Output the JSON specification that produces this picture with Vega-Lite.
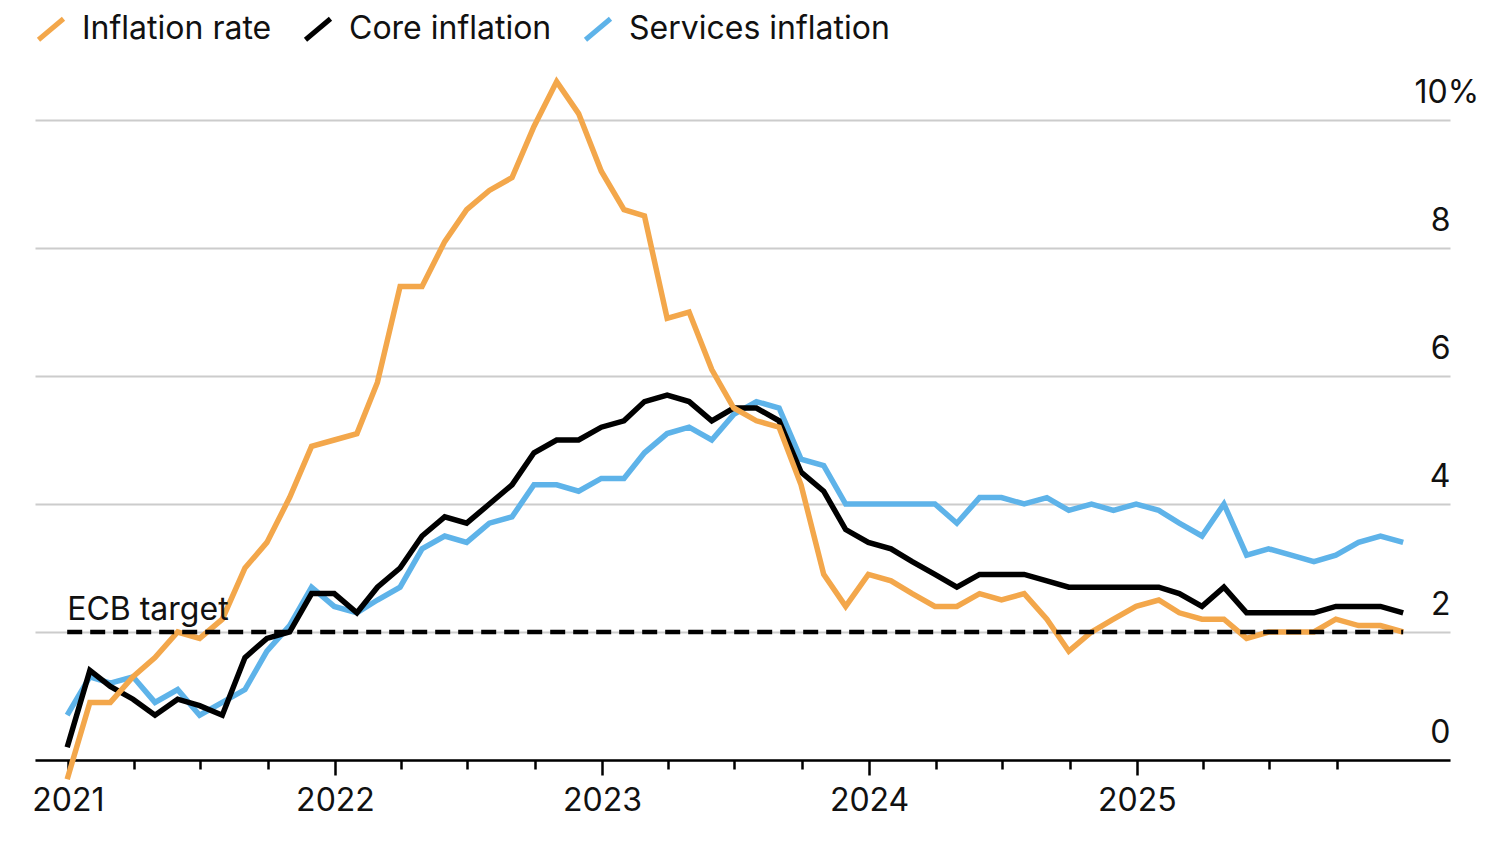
{
  "$schema": "https://vega.github.io/schema/vega-lite/v6.json",
  "width": 1415,
  "height": 704,
  "autosize": {"type": "none"},
  "padding": {"left": 35, "top": 56, "right": 50, "bottom": 90},
  "background": "#ffffff",
  "config": {"view": {"stroke": null}, "font": "Inter"},
  "datasets": {
    "main": [
      {"date": "2020-12-31", "Inflation rate": -0.3, "Core inflation": 0.2, "Services inflation": 0.7},
      {"date": "2021-01-31", "Inflation rate": 0.9, "Core inflation": 1.4, "Services inflation": 1.3},
      {"date": "2021-02-28", "Inflation rate": 0.9, "Core inflation": 1.15, "Services inflation": 1.2},
      {"date": "2021-03-31", "Inflation rate": 1.3, "Core inflation": 0.95, "Services inflation": 1.3},
      {"date": "2021-04-30", "Inflation rate": 1.6, "Core inflation": 0.7, "Services inflation": 0.9},
      {"date": "2021-05-31", "Inflation rate": 2.0, "Core inflation": 0.95, "Services inflation": 1.1},
      {"date": "2021-06-30", "Inflation rate": 1.9, "Core inflation": 0.85, "Services inflation": 0.7},
      {"date": "2021-07-31", "Inflation rate": 2.2, "Core inflation": 0.7, "Services inflation": 0.9},
      {"date": "2021-08-31", "Inflation rate": 3.0, "Core inflation": 1.6, "Services inflation": 1.1},
      {"date": "2021-09-30", "Inflation rate": 3.4, "Core inflation": 1.9, "Services inflation": 1.7},
      {"date": "2021-10-31", "Inflation rate": 4.1, "Core inflation": 2.0, "Services inflation": 2.1},
      {"date": "2021-11-30", "Inflation rate": 4.9, "Core inflation": 2.6, "Services inflation": 2.7},
      {"date": "2021-12-31", "Inflation rate": 5.0, "Core inflation": 2.6, "Services inflation": 2.4},
      {"date": "2022-01-31", "Inflation rate": 5.1, "Core inflation": 2.3, "Services inflation": 2.3},
      {"date": "2022-02-28", "Inflation rate": 5.9, "Core inflation": 2.7, "Services inflation": 2.5},
      {"date": "2022-03-31", "Inflation rate": 7.4, "Core inflation": 3.0, "Services inflation": 2.7},
      {"date": "2022-04-30", "Inflation rate": 7.4, "Core inflation": 3.5, "Services inflation": 3.3},
      {"date": "2022-05-31", "Inflation rate": 8.1, "Core inflation": 3.8, "Services inflation": 3.5},
      {"date": "2022-06-30", "Inflation rate": 8.6, "Core inflation": 3.7, "Services inflation": 3.4},
      {"date": "2022-07-31", "Inflation rate": 8.9, "Core inflation": 4.0, "Services inflation": 3.7},
      {"date": "2022-08-31", "Inflation rate": 9.1, "Core inflation": 4.3, "Services inflation": 3.8},
      {"date": "2022-09-30", "Inflation rate": 9.9, "Core inflation": 4.8, "Services inflation": 4.3},
      {"date": "2022-10-31", "Inflation rate": 10.6, "Core inflation": 5.0, "Services inflation": 4.3},
      {"date": "2022-11-30", "Inflation rate": 10.1, "Core inflation": 5.0, "Services inflation": 4.2},
      {"date": "2022-12-31", "Inflation rate": 9.2, "Core inflation": 5.2, "Services inflation": 4.4},
      {"date": "2023-01-31", "Inflation rate": 8.6, "Core inflation": 5.3, "Services inflation": 4.4},
      {"date": "2023-02-28", "Inflation rate": 8.5, "Core inflation": 5.6, "Services inflation": 4.8},
      {"date": "2023-03-31", "Inflation rate": 6.9, "Core inflation": 5.7, "Services inflation": 5.1},
      {"date": "2023-04-30", "Inflation rate": 7.0, "Core inflation": 5.6, "Services inflation": 5.2},
      {"date": "2023-05-31", "Inflation rate": 6.1, "Core inflation": 5.3, "Services inflation": 5.0},
      {"date": "2023-06-30", "Inflation rate": 5.5, "Core inflation": 5.5, "Services inflation": 5.4},
      {"date": "2023-07-31", "Inflation rate": 5.3, "Core inflation": 5.5, "Services inflation": 5.6},
      {"date": "2023-08-31", "Inflation rate": 5.2, "Core inflation": 5.3, "Services inflation": 5.5},
      {"date": "2023-09-30", "Inflation rate": 4.3, "Core inflation": 4.5, "Services inflation": 4.7},
      {"date": "2023-10-31", "Inflation rate": 2.9, "Core inflation": 4.2, "Services inflation": 4.6},
      {"date": "2023-11-30", "Inflation rate": 2.4, "Core inflation": 3.6, "Services inflation": 4.0},
      {"date": "2023-12-31", "Inflation rate": 2.9, "Core inflation": 3.4, "Services inflation": 4.0},
      {"date": "2024-01-31", "Inflation rate": 2.8, "Core inflation": 3.3, "Services inflation": 4.0},
      {"date": "2024-02-29", "Inflation rate": 2.6, "Core inflation": 3.1, "Services inflation": 4.0},
      {"date": "2024-03-31", "Inflation rate": 2.4, "Core inflation": 2.9, "Services inflation": 4.0},
      {"date": "2024-04-30", "Inflation rate": 2.4, "Core inflation": 2.7, "Services inflation": 3.7},
      {"date": "2024-05-31", "Inflation rate": 2.6, "Core inflation": 2.9, "Services inflation": 4.1},
      {"date": "2024-06-30", "Inflation rate": 2.5, "Core inflation": 2.9, "Services inflation": 4.1},
      {"date": "2024-07-31", "Inflation rate": 2.6, "Core inflation": 2.9, "Services inflation": 4.0},
      {"date": "2024-08-31", "Inflation rate": 2.2, "Core inflation": 2.8, "Services inflation": 4.1},
      {"date": "2024-09-30", "Inflation rate": 1.7, "Core inflation": 2.7, "Services inflation": 3.9},
      {"date": "2024-10-31", "Inflation rate": 2.0, "Core inflation": 2.7, "Services inflation": 4.0},
      {"date": "2024-11-30", "Inflation rate": 2.2, "Core inflation": 2.7, "Services inflation": 3.9},
      {"date": "2024-12-31", "Inflation rate": 2.4, "Core inflation": 2.7, "Services inflation": 4.0},
      {"date": "2025-01-31", "Inflation rate": 2.5, "Core inflation": 2.7, "Services inflation": 3.9},
      {"date": "2025-02-28", "Inflation rate": 2.3, "Core inflation": 2.6, "Services inflation": 3.7},
      {"date": "2025-03-31", "Inflation rate": 2.2, "Core inflation": 2.4, "Services inflation": 3.5},
      {"date": "2025-04-30", "Inflation rate": 2.2, "Core inflation": 2.7, "Services inflation": 4.0},
      {"date": "2025-05-31", "Inflation rate": 1.9, "Core inflation": 2.3, "Services inflation": 3.2},
      {"date": "2025-06-30", "Inflation rate": 2.0, "Core inflation": 2.3, "Services inflation": 3.3},
      {"date": "2025-07-31", "Inflation rate": 2.0, "Core inflation": 2.3, "Services inflation": 3.2},
      {"date": "2025-08-31", "Inflation rate": 2.0, "Core inflation": 2.3, "Services inflation": 3.1},
      {"date": "2025-09-30", "Inflation rate": 2.2, "Core inflation": 2.4, "Services inflation": 3.2},
      {"date": "2025-10-31", "Inflation rate": 2.1, "Core inflation": 2.4, "Services inflation": 3.4},
      {"date": "2025-11-30", "Inflation rate": 2.1, "Core inflation": 2.4, "Services inflation": 3.5},
      {"date": "2025-12-31", "Inflation rate": 2.0, "Core inflation": 2.3, "Services inflation": 3.4}
    ],
    "target": [
      {"date": "2020-12-31", "end": "2025-12-31", "value": 2, "label": "ECB target"}
    ]
  },
  "layer": [
    {
      "data": {"name": "main"},
      "transform": [
        {"fold": ["Services inflation", "Core inflation", "Inflation rate"], "as": ["series", "rate"]}
      ],
      "mark": {"type": "line", "strokeWidth": 5.5, "clip": false},
      "encoding": {
        "x": {
          "field": "date",
          "type": "temporal",
          "scale": {
            "type": "utc",
            "domain": [
              {"year": 2020, "month": 11, "date": 17, "utc": true},
              {"year": 2026, "month": 3, "date": 5, "utc": true}
            ]
          },
          "axis": {
            "title": null,
            "grid": false,
            "orient": "bottom",
            "values": [
              {"year": 2021, "month": 1, "date": 1, "utc": true},
              {"year": 2021, "month": 4, "date": 1, "utc": true},
              {"year": 2021, "month": 7, "date": 1, "utc": true},
              {"year": 2021, "month": 10, "date": 1, "utc": true},
              {"year": 2022, "month": 1, "date": 1, "utc": true},
              {"year": 2022, "month": 4, "date": 1, "utc": true},
              {"year": 2022, "month": 7, "date": 1, "utc": true},
              {"year": 2022, "month": 10, "date": 1, "utc": true},
              {"year": 2023, "month": 1, "date": 1, "utc": true},
              {"year": 2023, "month": 4, "date": 1, "utc": true},
              {"year": 2023, "month": 7, "date": 1, "utc": true},
              {"year": 2023, "month": 10, "date": 1, "utc": true},
              {"year": 2024, "month": 1, "date": 1, "utc": true},
              {"year": 2024, "month": 4, "date": 1, "utc": true},
              {"year": 2024, "month": 7, "date": 1, "utc": true},
              {"year": 2024, "month": 10, "date": 1, "utc": true},
              {"year": 2025, "month": 1, "date": 1, "utc": true},
              {"year": 2025, "month": 4, "date": 1, "utc": true},
              {"year": 2025, "month": 7, "date": 1, "utc": true},
              {"year": 2025, "month": 10, "date": 1, "utc": true}
            ],
            "labelExpr": "utcmonth(datum.value) === 0 ? utcFormat(datum.value, '%Y') : ''",
            "domainColor": "#000000",
            "domainWidth": 2.5,
            "tickColor": "#000000",
            "tickWidth": 2.5,
            "tickSize": {"condition": {"test": "utcmonth(datum.value) === 0", "value": 15}, "value": 9},
            "labelFont": "Inter",
            "labelFontSize": 32,
            "labelColor": "#111111",
            "labelPadding": 10,
            "labelBaseline": "top",
            "labelFlush": false,
            "labelOverlap": false,
            "labelBound": false
          }
        },
        "y": {
          "field": "rate",
          "type": "quantitative",
          "scale": {"domain": [0, 11], "nice": false, "zero": false},
          "axis": {
            "title": null,
            "orient": "right",
            "values": [0, 2, 4, 6, 8, 10],
            "format": "d",
            "grid": true,
            "gridColor": "#cccccc",
            "gridWidth": 2,
            "domain": false,
            "ticks": false,
            "tickSize": 0,
            "labelExpr": "datum.value === 10 ? '10%' : datum.label",
            "labelAlign": {"condition": {"test": "datum.value === 10", "value": "left"}, "value": "right"},
            "labelPadding": {"condition": {"test": "datum.value === 10", "value": -36}, "value": 0},
            "labelBaseline": "alphabetic",
            "labelOffset": -18,
            "labelFont": "Inter",
            "labelFontSize": 32,
            "labelColor": "#111111"
          }
        },
        "color": {
          "field": "series",
          "type": "nominal",
          "scale": {
            "domain": ["Inflation rate", "Core inflation", "Services inflation"],
            "range": ["#F3A74B", "#000000", "#5EB3E9"]
          },
          "legend": {
            "title": null,
            "orient": "none",
            "direction": "horizontal",
            "legendX": 0,
            "legendY": -43,
            "symbolType": "M-1,0.84L1,-0.84",
            "symbolSize": 625,
            "symbolStrokeWidth": 5,
            "labelFont": "Inter",
            "labelFontSize": 32,
            "labelColor": "#111111",
            "labelOffset": 15,
            "columnPadding": 23,
            "labelLimit": 500
          }
        }
      }
    },
    {
      "data": {"name": "target"},
      "mark": {"type": "rule", "color": "#000000", "strokeWidth": 4.5, "strokeDash": [15, 8]},
      "encoding": {
        "x": {"field": "date", "type": "temporal"},
        "x2": {"field": "end"},
        "y": {"field": "value", "type": "quantitative"}
      }
    },
    {
      "data": {"name": "target"},
      "mark": {"type": "text", "align": "left", "baseline": "alphabetic", "dy": -12, "font": "Inter", "fontSize": 32, "color": "#111111"},
      "encoding": {
        "x": {"field": "date", "type": "temporal"},
        "y": {"field": "value", "type": "quantitative"},
        "text": {"field": "label"}
      }
    }
  ]
}
